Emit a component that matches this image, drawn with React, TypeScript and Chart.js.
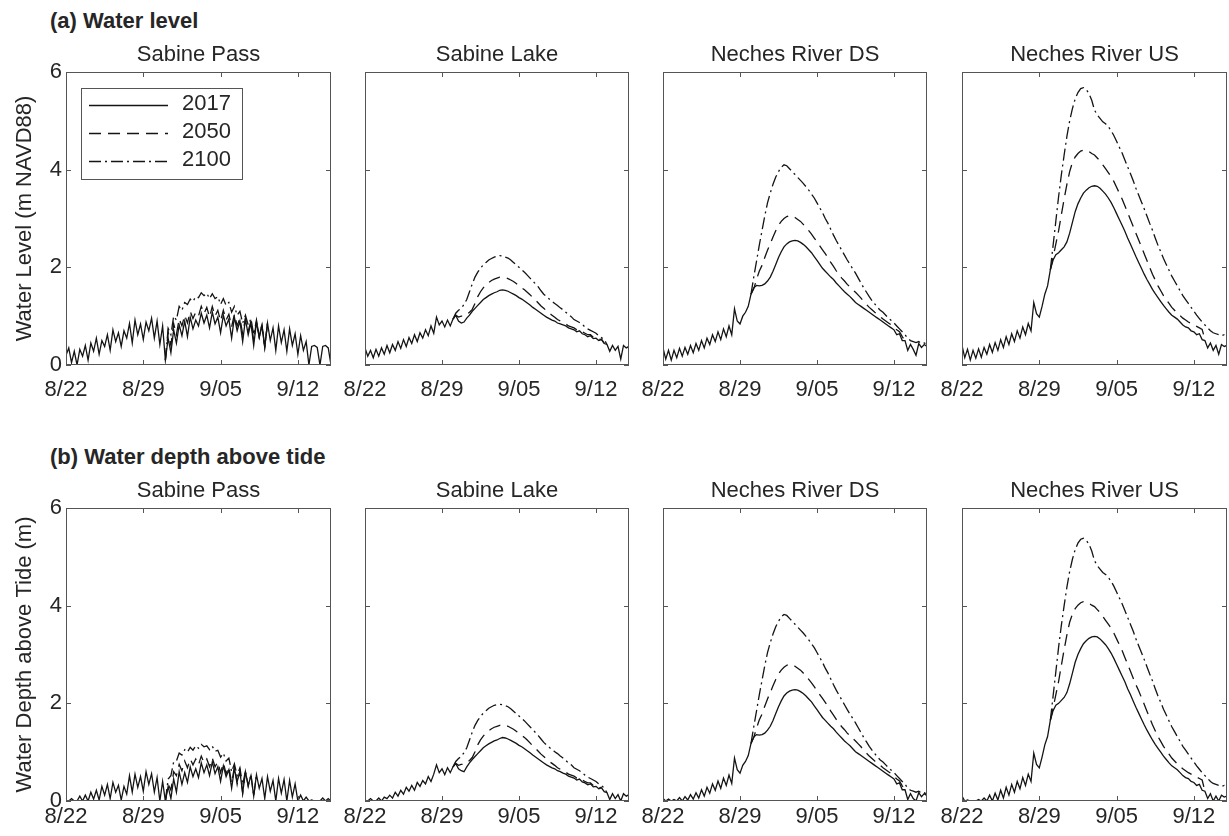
import React, { useEffect, useRef } from "react";
import { Chart, registerables } from "chart.js";

Chart.register(...registerables);

// ---------------- data ----------------
const DAYS_SINCE_AUG22 = [
  0, 0.25, 0.5, 0.75, 1, 1.25, 1.5, 1.75, 2, 2.25, 2.5, 2.75, 3, 3.25, 3.5, 3.75,
  4, 4.25, 4.5, 4.75, 5, 5.25, 5.5, 5.75, 6, 6.25, 6.5, 6.75, 7, 7.25, 7.5, 7.75,
  8, 8.25, 8.5, 8.75, 9, 9.25, 9.5, 9.75, 10, 10.25, 10.5, 10.75, 11, 11.25, 11.5, 11.75,
  12, 12.25, 12.5, 12.75, 13, 13.25, 13.5, 13.75, 14, 14.25, 14.5, 14.75, 15, 15.25, 15.5, 15.75,
  16, 16.25, 16.5, 16.75, 17, 17.25, 17.5, 17.75, 18, 18.25, 18.5, 18.75, 19, 19.25, 19.5, 19.75,
  20, 20.25, 20.5, 20.75, 21, 21.25, 21.5, 21.75, 22, 22.25, 22.5, 22.75, 23, 23.25, 23.5, 23.75, 24,
];
const DATE_TICKS = [0, 7, 14, 21];
const DATE_LABELS = ["8/22", "8/29", "9/05", "9/12"];
const Y_TICKS = [0, 2, 4, 6];
const SCENARIOS = ["2017", "2050", "2100"];
const STATIONS = ["Sabine Pass", "Sabine Lake", "Neches River DS", "Neches River US"];
const ROW_HEADERS = ["(a) Water level", "(b) Water depth above tide"];
const Y_TITLES = ["Water Level (m NAVD88)", "Water Depth above Tide (m)"];
// index in DAYS_SINCE_AUG22 where the 2050 / 2100 curves leave the 2017 curve
const START_SABINE_PASS = 36;
const START_OTHERS = 32;

// (a) water level
const LEVEL_SABINE_PASS_2017 = [
  0.20, 0.35, 0.05, 0.28, 0.00, 0.32, 0.18, 0.40, 0.10, 0.45, 0.28, 0.55, 0.22, 0.50, 0.38, 0.62,
  0.30, 0.72, 0.48, 0.66, 0.38, 0.70, 0.55, 0.85, 0.45, 0.92, 0.62, 0.84, 0.52, 0.88, 0.70, 0.96,
  0.55, 0.90, 0.42, 0.80, 0.10, 0.55, 0.25, 0.72, 0.45, 0.82, 0.60, 0.90, 0.58, 0.98, 0.74, 0.92,
  0.80, 1.06, 0.86, 1.02, 0.76, 1.08, 0.84, 0.98, 0.66, 1.02, 0.80, 0.94, 0.55, 0.98, 0.70, 0.90,
  0.48, 0.94, 0.62, 0.86, 0.40, 0.88, 0.56, 0.80, 0.36, 0.86, 0.50, 0.76, 0.30, 0.80, 0.46, 0.72,
  0.28, 0.74, 0.40, 0.64, 0.22, 0.60, 0.30, 0.48, 0.00, 0.38, 0.40, 0.36, 0.00, 0.38, 0.40, 0.35, 0.00,
];
const LEVEL_SABINE_PASS_2050 = [
  0.10, 0.68, 0.40, 0.85, 0.62, 0.95, 0.80, 1.02, 0.86, 1.10, 0.95, 1.08, 1.00, 1.20, 1.05, 1.18,
  0.98, 1.20, 1.00, 1.12, 0.90, 1.12, 0.92, 1.04, 0.78, 1.04, 0.80, 0.96, 0.64, 0.96, 0.70, 0.90,
  0.50, 0.90, 0.58, 0.82, 0.36, 0.86,
];
const LEVEL_SABINE_PASS_2100 = [
  0.10, 0.75, 0.62, 1.00, 0.92, 1.20, 1.12, 1.28, 1.24, 1.35, 1.30, 1.40, 1.38, 1.48, 1.42, 1.47,
  1.36, 1.46, 1.36, 1.40, 1.24, 1.36, 1.22, 1.28, 1.08, 1.20, 1.02, 1.10, 0.86, 1.02, 0.82, 0.95,
  0.62, 0.92, 0.58, 0.84, 0.36, 0.86,
];
const LEVEL_SABINE_LAKE_2017 = [
  0.35, 0.18, 0.30, 0.15, 0.32, 0.18, 0.35, 0.22, 0.40, 0.25, 0.42, 0.30, 0.48, 0.34, 0.52, 0.38,
  0.56, 0.44, 0.62, 0.48, 0.66, 0.55, 0.72, 0.60, 0.80, 0.65, 0.98, 0.82, 0.90, 0.78, 0.92, 0.80,
  0.94, 1.02, 0.90, 0.86, 0.88, 0.96, 1.02, 1.10, 1.16, 1.22, 1.28, 1.34, 1.38, 1.42, 1.45, 1.48,
  1.50, 1.53, 1.54, 1.53, 1.51, 1.48, 1.45, 1.42, 1.38, 1.35, 1.31, 1.27, 1.23, 1.18, 1.14, 1.10,
  1.06, 1.02, 0.98, 0.95, 0.92, 0.90, 0.86, 0.84, 0.82, 0.80, 0.76, 0.74, 0.72, 0.68, 0.70, 0.64,
  0.62, 0.58, 0.60, 0.54, 0.55, 0.50, 0.52, 0.44, 0.42, 0.28, 0.40, 0.30, 0.38, 0.12, 0.40, 0.35, 0.38,
];
const LEVEL_SABINE_LAKE_2050 = [
  0.94, 1.02, 0.98, 1.00, 1.00, 1.04, 1.08, 1.14, 1.26, 1.40, 1.50, 1.58, 1.64, 1.69, 1.73, 1.76,
  1.78, 1.80, 1.80, 1.79, 1.77, 1.74, 1.71, 1.67, 1.62, 1.58, 1.54, 1.49, 1.44, 1.38, 1.33, 1.27,
  1.21, 1.16, 1.11, 1.06, 1.02, 0.98, 0.93, 0.90, 0.86, 0.84, 0.80, 0.78, 0.76, 0.72, 0.73, 0.68,
  0.65, 0.62, 0.62, 0.57, 0.57, 0.52, 0.53, 0.45,
];
const LEVEL_SABINE_LAKE_2100 = [
  0.94, 1.06, 1.12, 1.16, 1.24, 1.34, 1.50, 1.66, 1.80, 1.90, 1.98, 2.05, 2.10, 2.15, 2.18, 2.21,
  2.23, 2.24, 2.23, 2.21, 2.19, 2.15, 2.10, 2.05, 2.00, 1.95, 1.90, 1.84, 1.78, 1.72, 1.66, 1.60,
  1.52, 1.45, 1.40, 1.35, 1.30, 1.26, 1.22, 1.17, 1.13, 1.08, 1.03, 0.99, 0.93, 0.90, 0.87, 0.83,
  0.78, 0.74, 0.71, 0.68, 0.65, 0.60, 0.56, 0.52, 0.42,
];
const LEVEL_NECHES_DS_2017 = [
  0.35, 0.12, 0.30, 0.10, 0.30, 0.15, 0.34, 0.18, 0.36, 0.22, 0.40, 0.25, 0.44, 0.30, 0.50, 0.35,
  0.55, 0.42, 0.62, 0.48, 0.68, 0.52, 0.74, 0.58, 0.80, 0.62, 1.15, 0.90, 0.84, 1.00, 1.08, 1.20,
  1.45, 1.58, 1.63, 1.62, 1.63, 1.66, 1.72, 1.80, 1.92, 2.06, 2.20, 2.32, 2.42, 2.48, 2.52, 2.54,
  2.55, 2.54, 2.51, 2.47, 2.42, 2.36, 2.30, 2.22, 2.14, 2.06, 1.98, 1.92, 1.86, 1.80, 1.75, 1.68,
  1.62, 1.56, 1.50, 1.45, 1.40, 1.34, 1.28, 1.24, 1.20, 1.16, 1.12, 1.08, 1.04, 1.00, 0.96, 0.92,
  0.88, 0.84, 0.80, 0.76, 0.72, 0.62, 0.64, 0.50, 0.50, 0.30, 0.42, 0.32, 0.20, 0.44, 0.36, 0.42, 0.38,
];
const LEVEL_NECHES_DS_2050 = [
  1.45, 1.56, 1.75, 1.92, 2.04, 2.20, 2.35, 2.48, 2.62, 2.75, 2.86, 2.94, 3.00, 3.04, 3.06, 3.05,
  3.02, 2.98, 2.94, 2.88, 2.82, 2.75, 2.68, 2.60, 2.52, 2.44, 2.36, 2.28, 2.20, 2.10, 2.02, 1.93,
  1.85, 1.78, 1.72, 1.65, 1.60, 1.54, 1.49, 1.43, 1.37, 1.30, 1.24, 1.18, 1.13, 1.08, 1.04, 0.99,
  0.94, 0.90, 0.86, 0.82, 0.77, 0.72, 0.68, 0.58, 0.50,
];
const LEVEL_NECHES_DS_2100 = [
  1.45, 1.80, 2.12, 2.45, 2.75, 3.05, 3.32, 3.52, 3.70, 3.85, 3.96, 4.05, 4.10, 4.08, 4.02, 3.96,
  3.90, 3.84, 3.78, 3.72, 3.65, 3.58, 3.50, 3.42, 3.32, 3.22, 3.12, 3.00, 2.90, 2.78, 2.66, 2.55,
  2.45, 2.35, 2.25, 2.15, 2.06, 1.97, 1.88, 1.78, 1.68, 1.58, 1.49, 1.40, 1.32, 1.25, 1.18, 1.12,
  1.08, 1.02, 0.96, 0.91, 0.86, 0.80, 0.74, 0.68, 0.62, 0.55, 0.50, 0.48, 0.46, 0.48, 0.44, 0.45, 0.42,
];
const LEVEL_NECHES_US_2017 = [
  0.40, 0.15, 0.32, 0.10, 0.30, 0.14, 0.33, 0.16, 0.36, 0.22, 0.42, 0.26, 0.46, 0.30, 0.52, 0.36,
  0.58, 0.42, 0.64, 0.48, 0.70, 0.55, 0.78, 0.62, 0.85, 0.70, 1.28, 1.05, 0.98, 1.20, 1.45, 1.62,
  1.95, 2.15, 2.26, 2.30, 2.36, 2.42, 2.52, 2.70, 2.92, 3.14, 3.30, 3.42, 3.52, 3.58, 3.63, 3.66,
  3.67, 3.66, 3.62, 3.56, 3.50, 3.42, 3.33, 3.22, 3.10, 2.98, 2.86, 2.74, 2.60, 2.48, 2.35, 2.22,
  2.10, 1.98, 1.86, 1.75, 1.65, 1.55, 1.46, 1.38, 1.30, 1.22, 1.15, 1.08, 1.02, 0.98, 0.94, 0.88,
  0.82, 0.78, 0.76, 0.70, 0.68, 0.62, 0.64, 0.52, 0.50, 0.35, 0.45, 0.30, 0.40, 0.22, 0.42, 0.38, 0.40,
];
const LEVEL_NECHES_US_2050 = [
  1.95, 2.20, 2.48, 2.75, 3.08, 3.40, 3.70, 3.96, 4.15, 4.26, 4.33, 4.38, 4.40, 4.40, 4.37, 4.33,
  4.30, 4.24, 4.18, 4.10, 4.02, 3.94, 3.86, 3.76, 3.64, 3.52, 3.40, 3.26, 3.12, 2.98, 2.84, 2.70,
  2.56, 2.42, 2.28, 2.14, 2.00, 1.86, 1.74, 1.62, 1.52, 1.42, 1.34, 1.26, 1.18, 1.12, 1.06, 1.01,
  0.96, 0.92, 0.88, 0.85, 0.82, 0.79, 0.76, 0.73, 0.52,
];
const LEVEL_NECHES_US_2100 = [
  1.95, 2.45, 2.95, 3.45, 3.90, 4.30, 4.68, 5.00, 5.25, 5.45, 5.58, 5.66, 5.68, 5.64, 5.56, 5.42,
  5.22, 5.12, 5.05, 4.98, 4.94, 4.88, 4.80, 4.70, 4.58, 4.46, 4.34, 4.20, 4.06, 3.92, 3.78, 3.62,
  3.48, 3.34, 3.20, 3.05, 2.90, 2.76, 2.60, 2.45, 2.32, 2.18, 2.06, 1.94, 1.82, 1.72, 1.62, 1.52,
  1.42, 1.34, 1.26, 1.18, 1.10, 1.02, 0.95, 0.88, 0.82, 0.76, 0.70, 0.66, 0.64, 0.62, 0.60, 0.62, 0.57,
];

// (b) water depth above tide
const DEPTH_SABINE_PASS_2017 = [
  0.00, 0.00, 0.05, 0.00, 0.00, 0.10, 0.00, 0.12, 0.00, 0.18, 0.04, 0.22, 0.02, 0.30, 0.12, 0.34,
  0.05, 0.38, 0.18, 0.32, 0.02, 0.30, 0.14, 0.52, 0.18, 0.55, 0.28, 0.50, 0.20, 0.60, 0.34, 0.56,
  0.18, 0.48, 0.00, 0.40, 0.00, 0.30, 0.05, 0.45, 0.18, 0.60, 0.34, 0.58, 0.38, 0.70, 0.50, 0.66,
  0.48, 0.78, 0.58, 0.74, 0.52, 0.80, 0.56, 0.70, 0.40, 0.72, 0.50, 0.64, 0.26, 0.66, 0.40, 0.60,
  0.16, 0.60, 0.32, 0.52, 0.10, 0.54, 0.26, 0.46, 0.05, 0.50, 0.20, 0.42, 0.00, 0.46, 0.16, 0.44,
  0.00, 0.42, 0.08, 0.35, 0.00, 0.12, 0.00, 0.08, 0.00, 0.02, 0.00, 0.00, 0.00, 0.06, 0.00, 0.05, 0.00,
];
const DEPTH_SABINE_PASS_2050 = [
  0.00, 0.35, 0.22, 0.60, 0.52, 0.75, 0.62, 0.82, 0.68, 0.86, 0.74, 0.86, 0.74, 0.92, 0.78, 0.86,
  0.70, 0.88, 0.70, 0.80, 0.58, 0.78, 0.56, 0.70, 0.36, 0.70, 0.34, 0.62, 0.16, 0.60,
];
const DEPTH_SABINE_PASS_2100 = [
  0.00, 0.45, 0.52, 0.80, 0.82, 0.98, 0.94, 1.05, 1.00, 1.10, 1.04, 1.13, 1.08, 1.16, 1.11, 1.13,
  1.05, 1.12, 1.02, 1.04, 0.90, 0.98, 0.82, 0.88, 0.60, 0.76, 0.52, 0.68, 0.32, 0.62, 0.30, 0.55,
  0.10, 0.54,
];
const DEPTH_SABINE_LAKE_2017 = [
  0.02, 0.00, 0.05, 0.00, 0.00, 0.06, 0.00, 0.08, 0.05, 0.12, 0.06, 0.18, 0.10, 0.22, 0.14, 0.28,
  0.20, 0.32, 0.22, 0.38, 0.30, 0.42, 0.35, 0.50, 0.40, 0.55, 0.74, 0.58, 0.66, 0.54, 0.68, 0.58,
  0.70, 0.77, 0.66, 0.62, 0.60, 0.70, 0.78, 0.85, 0.91, 0.97, 1.03, 1.09, 1.13, 1.17, 1.20, 1.23,
  1.25, 1.28, 1.30, 1.29, 1.27, 1.24, 1.21, 1.18, 1.14, 1.11, 1.07, 1.03, 0.99, 0.94, 0.90, 0.86,
  0.82, 0.78, 0.74, 0.71, 0.68, 0.66, 0.62, 0.60, 0.57, 0.55, 0.51, 0.49, 0.47, 0.43, 0.45, 0.39,
  0.37, 0.33, 0.35, 0.29, 0.30, 0.25, 0.27, 0.19, 0.17, 0.03, 0.15, 0.05, 0.13, 0.00, 0.15, 0.10, 0.13,
];
const DEPTH_SABINE_LAKE_2050 = [
  0.70, 0.77, 0.73, 0.75, 0.75, 0.79, 0.83, 0.89, 1.01, 1.15, 1.25, 1.33, 1.39, 1.44, 1.48, 1.51,
  1.53, 1.55, 1.56, 1.55, 1.53, 1.50, 1.47, 1.43, 1.38, 1.34, 1.30, 1.25, 1.19, 1.13, 1.08, 1.02,
  0.96, 0.91, 0.86, 0.81, 0.77, 0.73, 0.68, 0.65, 0.61, 0.59, 0.55, 0.53, 0.51, 0.47, 0.48, 0.43,
  0.40, 0.37, 0.37, 0.32, 0.32, 0.27, 0.28,
];
const DEPTH_SABINE_LAKE_2100 = [
  0.70, 0.81, 0.87, 0.91, 0.99, 1.09, 1.25, 1.41, 1.55, 1.65, 1.73, 1.80, 1.85, 1.90, 1.93, 1.96,
  1.97, 1.98, 1.97, 1.95, 1.93, 1.89, 1.84, 1.79, 1.74, 1.69, 1.64, 1.58, 1.52, 1.46, 1.40, 1.34,
  1.27, 1.20, 1.15, 1.10, 1.05, 1.01, 0.97, 0.92, 0.88, 0.83, 0.78, 0.74, 0.68, 0.65, 0.62, 0.58,
  0.53, 0.49, 0.46, 0.43, 0.40, 0.35, 0.31, 0.27, 0.17,
];
const DEPTH_NECHES_DS_2017 = [
  0.05, 0.00, 0.04, 0.00, 0.03, 0.00, 0.07, 0.00, 0.09, 0.02, 0.13, 0.04, 0.17, 0.06, 0.23, 0.10,
  0.28, 0.16, 0.35, 0.22, 0.41, 0.26, 0.47, 0.32, 0.53, 0.36, 0.88, 0.64, 0.57, 0.73, 0.81, 0.93,
  1.18, 1.31, 1.36, 1.35, 1.36, 1.39, 1.45, 1.53, 1.65, 1.79, 1.93, 2.05, 2.15, 2.21, 2.25, 2.27,
  2.28, 2.27, 2.24, 2.20, 2.15, 2.09, 2.03, 1.95, 1.87, 1.79, 1.71, 1.65, 1.59, 1.53, 1.48, 1.41,
  1.35, 1.29, 1.23, 1.18, 1.13, 1.07, 1.01, 0.97, 0.93, 0.89, 0.85, 0.81, 0.77, 0.73, 0.69, 0.65,
  0.61, 0.57, 0.53, 0.49, 0.45, 0.35, 0.37, 0.23, 0.23, 0.03, 0.15, 0.05, 0.00, 0.17, 0.09, 0.15, 0.11,
];
const DEPTH_NECHES_DS_2050 = [
  1.18, 1.30, 1.49, 1.66, 1.78, 1.94, 2.09, 2.22, 2.36, 2.49, 2.60, 2.68, 2.74, 2.78, 2.80, 2.79,
  2.76, 2.72, 2.68, 2.62, 2.56, 2.49, 2.42, 2.34, 2.26, 2.18, 2.10, 2.02, 1.94, 1.84, 1.76, 1.67,
  1.59, 1.52, 1.46, 1.39, 1.34, 1.28, 1.23, 1.17, 1.11, 1.04, 0.98, 0.92, 0.87, 0.82, 0.78, 0.73,
  0.68, 0.64, 0.60, 0.56, 0.50, 0.45, 0.41, 0.31, 0.23,
];
const DEPTH_NECHES_DS_2100 = [
  1.18, 1.52, 1.84, 2.17, 2.47, 2.77, 3.04, 3.24, 3.42, 3.57, 3.68, 3.77, 3.82, 3.80, 3.74, 3.68,
  3.62, 3.56, 3.50, 3.44, 3.37, 3.30, 3.22, 3.14, 3.04, 2.94, 2.84, 2.72, 2.62, 2.50, 2.38, 2.27,
  2.17, 2.07, 1.97, 1.87, 1.78, 1.69, 1.60, 1.50, 1.40, 1.30, 1.21, 1.12, 1.04, 0.97, 0.90, 0.84,
  0.80, 0.74, 0.68, 0.63, 0.58, 0.52, 0.46, 0.40, 0.34, 0.27, 0.22, 0.20, 0.18, 0.20, 0.16, 0.17, 0.14,
];
const DEPTH_NECHES_US_2017 = [
  0.10, 0.00, 0.02, 0.00, 0.00, 0.00, 0.03, 0.00, 0.06, 0.00, 0.12, 0.00, 0.16, 0.02, 0.22, 0.06,
  0.28, 0.12, 0.34, 0.18, 0.40, 0.25, 0.48, 0.32, 0.55, 0.40, 0.98, 0.75, 0.68, 0.90, 1.15, 1.32,
  1.65, 1.85, 1.96, 2.00, 2.06, 2.12, 2.22, 2.40, 2.62, 2.84, 3.00, 3.12, 3.22, 3.28, 3.33, 3.36,
  3.37, 3.36, 3.32, 3.26, 3.20, 3.12, 3.03, 2.92, 2.80, 2.68, 2.56, 2.44, 2.30, 2.18, 2.05, 1.92,
  1.80, 1.68, 1.56, 1.45, 1.35, 1.25, 1.16, 1.08, 1.00, 0.92, 0.85, 0.78, 0.72, 0.68, 0.64, 0.58,
  0.52, 0.48, 0.46, 0.40, 0.38, 0.32, 0.34, 0.22, 0.20, 0.05, 0.15, 0.00, 0.10, 0.00, 0.12, 0.08, 0.10,
];
const DEPTH_NECHES_US_2050 = [
  1.65, 1.90, 2.18, 2.45, 2.78, 3.10, 3.40, 3.66, 3.83, 3.94, 4.01, 4.06, 4.08, 4.08, 4.05, 4.01,
  3.98, 3.92, 3.86, 3.78, 3.70, 3.62, 3.54, 3.44, 3.32, 3.20, 3.08, 2.94, 2.80, 2.66, 2.52, 2.38,
  2.26, 2.12, 1.98, 1.84, 1.70, 1.56, 1.44, 1.32, 1.22, 1.12, 1.04, 0.96, 0.88, 0.82, 0.76, 0.71,
  0.66, 0.62, 0.58, 0.55, 0.52, 0.49, 0.46, 0.43, 0.20,
];
const DEPTH_NECHES_US_2100 = [
  1.65, 2.15, 2.65, 3.15, 3.60, 4.00, 4.38, 4.70, 4.95, 5.15, 5.28, 5.36, 5.38, 5.34, 5.26, 5.12,
  4.92, 4.82, 4.75, 4.68, 4.64, 4.58, 4.50, 4.40, 4.28, 4.16, 4.04, 3.90, 3.76, 3.62, 3.48, 3.32,
  3.18, 3.04, 2.90, 2.75, 2.60, 2.46, 2.30, 2.15, 2.02, 1.88, 1.76, 1.64, 1.52, 1.42, 1.32, 1.22,
  1.12, 1.04, 0.96, 0.88, 0.80, 0.72, 0.65, 0.58, 0.52, 0.46, 0.40, 0.36, 0.34, 0.32, 0.30, 0.32, 0.27,
];

const PANEL_SERIES: number[][][][] = [
  [
    [LEVEL_SABINE_PASS_2017, LEVEL_SABINE_PASS_2050, LEVEL_SABINE_PASS_2100],
    [LEVEL_SABINE_LAKE_2017, LEVEL_SABINE_LAKE_2050, LEVEL_SABINE_LAKE_2100],
    [LEVEL_NECHES_DS_2017, LEVEL_NECHES_DS_2050, LEVEL_NECHES_DS_2100],
    [LEVEL_NECHES_US_2017, LEVEL_NECHES_US_2050, LEVEL_NECHES_US_2100],
  ],
  [
    [DEPTH_SABINE_PASS_2017, DEPTH_SABINE_PASS_2050, DEPTH_SABINE_PASS_2100],
    [DEPTH_SABINE_LAKE_2017, DEPTH_SABINE_LAKE_2050, DEPTH_SABINE_LAKE_2100],
    [DEPTH_NECHES_DS_2017, DEPTH_NECHES_DS_2050, DEPTH_NECHES_DS_2100],
    [DEPTH_NECHES_US_2017, DEPTH_NECHES_US_2050, DEPTH_NECHES_US_2100],
  ],
];

// ---------------- styling / layout ----------------
const FONT = '"Liberation Sans", Arial, Helvetica, sans-serif';
const INK = "#262626";
const FRAME = "#555555";
const LINE = "#141414";
const DASHES: number[][] = [[], [12, 7], [12, 4, 2, 4]];

const COL_LEFT = [66, 365, 663, 962];
const COL_WIDTH = [265, 264, 264, 265];
const ROW_TOP = [72, 508];
const PLOT_H = 293;
const TITLE_H = 30;
const XAXIS_H = [40, 35];
const XTICK_PAD = [12, 3];
const TICK_LEN = 5;

const framePlugin = {
  id: "matlabFrame",
  afterDatasetsDraw(chart: any) {
    const { ctx, chartArea } = chart;
    const { left, top, right, bottom } = chartArea;
    const xs = chart.scales.x;
    const ys = chart.scales.y;
    ctx.save();
    ctx.strokeStyle = FRAME;
    ctx.lineWidth = 1;
    ctx.setLineDash([]);
    ctx.strokeRect(left + 0.5, top + 0.5, right - left - 1, bottom - top - 1);
    ctx.beginPath();
    DATE_TICKS.forEach((v) => {
      const px = Math.round(xs.getPixelForValue(v)) + 0.5;
      ctx.moveTo(px, bottom);
      ctx.lineTo(px, bottom - TICK_LEN);
      ctx.moveTo(px, top);
      ctx.lineTo(px, top + TICK_LEN);
    });
    Y_TICKS.forEach((v) => {
      const py = Math.round(ys.getPixelForValue(v)) + 0.5;
      ctx.moveTo(left, py);
      ctx.lineTo(left + TICK_LEN, py);
      ctx.moveTo(right, py);
      ctx.lineTo(right - TICK_LEN, py);
    });
    ctx.stroke();
    ctx.restore();
  },
};

const boxedLegendPlugin = {
  id: "boxedLegend",
  afterDraw(chart: any, _args: any, opts: any) {
    if (!opts || !opts.show) return;
    const { ctx, chartArea } = chart;
    const x0 = chartArea.left + 15;
    const y0 = chartArea.top + 16;
    const w = 161;
    const h = 91;
    ctx.save();
    ctx.fillStyle = "#ffffff";
    ctx.fillRect(x0, y0, w, h);
    ctx.strokeStyle = FRAME;
    ctx.lineWidth = 1;
    ctx.strokeRect(x0 + 0.5, y0 + 0.5, w, h);
    chart.data.datasets.forEach((ds: any, i: number) => {
      const yy = y0 + 17 + i * 28;
      ctx.setLineDash(ds.borderDash || []);
      ctx.strokeStyle = ds.borderColor;
      ctx.lineWidth = ds.borderWidth;
      ctx.beginPath();
      ctx.moveTo(x0 + 8, yy + 0.5);
      ctx.lineTo(x0 + 87, yy + 0.5);
      ctx.stroke();
      ctx.setLineDash([]);
      ctx.fillStyle = INK;
      ctx.font = `22px ${FONT}`;
      ctx.textBaseline = "middle";
      ctx.textAlign = "left";
      ctx.fillText(ds.label, x0 + 101, yy - 1);
    });
    ctx.restore();
  },
};

function Panel({ row, col }: { row: number; col: number }) {
  const ref = useRef<HTMLCanvasElement | null>(null);
  const yw = col === 0 ? COL_LEFT[0] : 40;
  const rp = 2;
  const width = yw + COL_WIDTH[col] + rp;
  const height = TITLE_H + PLOT_H + XAXIS_H[row];
  const left = COL_LEFT[col] - yw;
  const top = ROW_TOP[row] - TITLE_H;

  useEffect(() => {
    if (!ref.current) return;
    const seriesList = PANEL_SERIES[row][col];
    const futureStart = col === 0 ? START_SABINE_PASS : START_OTHERS;
    const starts = [0, futureStart, futureStart];
    const datasets = seriesList.map((vals, k) => ({
      label: SCENARIOS[k],
      data: vals.map((v, i) => ({ x: DAYS_SINCE_AUG22[starts[k] + i], y: v })),
      borderColor: LINE,
      borderWidth: 1.3,
      borderDash: DASHES[k],
      pointRadius: 0,
      tension: 0,
      fill: false,
    }));
    const chart = new Chart(ref.current, {
      type: "line",
      data: { datasets },
      plugins: [framePlugin, boxedLegendPlugin],
      options: {
        animation: false,
        responsive: false,
        maintainAspectRatio: false,
        events: [],
        layout: { padding: { left: 0, right: rp, top: 0, bottom: 0 } },
        plugins: {
          legend: { display: false },
          tooltip: { enabled: false },
          title: {
            display: true,
            fullSize: false,
            text: STATIONS[col],
            color: INK,
            font: { family: FONT, size: 22, weight: "normal", lineHeight: 1.2 },
            padding: { top: 0, bottom: TITLE_H - 26.4 },
          },
          boxedLegend: { show: row === 0 && col === 0 },
        } as any,
        scales: {
          x: {
            type: "linear",
            min: 0,
            max: 24,
            grid: { display: false, drawTicks: false, tickLength: 0 },
            border: { display: false },
            afterBuildTicks: (s: any) => {
              s.ticks = DATE_TICKS.map((v) => ({ value: v }));
            },
            afterFit: (s: any) => {
              s.height = XAXIS_H[row];
            },
            ticks: {
              autoSkip: false,
              maxRotation: 0,
              minRotation: 0,
              padding: XTICK_PAD[row],
              color: INK,
              font: { family: FONT, size: 22 },
              callback: (value: any) => DATE_LABELS[DATE_TICKS.indexOf(Number(value))] ?? "",
            },
          },
          y: {
            type: "linear",
            min: 0,
            max: 6,
            grid: { display: false, drawTicks: false, tickLength: 0 },
            border: { display: false },
            afterBuildTicks: (s: any) => {
              s.ticks = Y_TICKS.map((v) => ({ value: v }));
            },
            afterFit: (s: any) => {
              s.width = yw;
            },
            ticks: {
              display: col === 0,
              padding: 4,
              color: INK,
              font: { family: FONT, size: 22 },
              callback: (value: any) => String(value),
            },
            title: {
              display: col === 0,
              text: Y_TITLES[row],
              color: INK,
              font: { family: FONT, size: 22, lineHeight: 1.2 },
              padding: { top: 12, bottom: 0 },
            },
          },
        },
      } as any,
    });
    return () => chart.destroy();
  }, [row, col]);

  return (
    <canvas
      ref={ref}
      width={width}
      height={height}
      style={{ position: "absolute", left, top, width, height }}
    />
  );
}

export default function App() {
  return (
    <div
      style={{
        position: "absolute",
        left: 0,
        top: 0,
        width: 1229,
        height: 836,
        background: "#ffffff",
        overflow: "hidden",
        fontFamily: FONT,
      }}
    >
      {ROW_HEADERS.map((h, r) => (
        <div
          key={h}
          style={{
            position: "absolute",
            left: 50,
            top: r === 0 ? 8 : 444,
            fontWeight: "bold",
            fontSize: 22,
            lineHeight: "26px",
            color: INK,
            whiteSpace: "nowrap",
          }}
        >
          {h}
        </div>
      ))}
      {[0, 1].map((r) =>
        [0, 1, 2, 3].map((c) => <Panel key={`${r}-${c}`} row={r} col={c} />)
      )}
    </div>
  );
}
